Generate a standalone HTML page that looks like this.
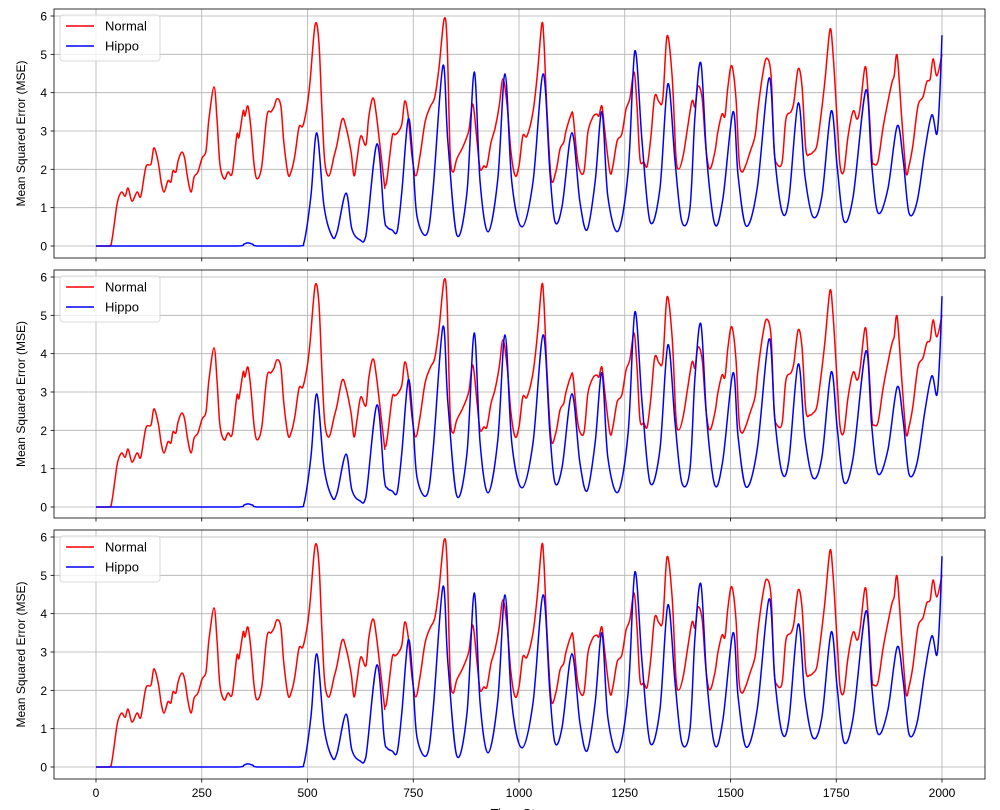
<!DOCTYPE html>
<html><head><meta charset="utf-8">
<style>
body{margin:0;background:#fff;}
svg{display:block;font-family:"Liberation Sans","DejaVu Sans",sans-serif;}
</style></head>
<body>
<svg id="chart" width="1000" height="810" viewBox="0 0 1000 810" xmlns="http://www.w3.org/2000/svg"></svg>
<script>
const xTicks = [0,250,500,750,1000,1250,1500,1750,2000];
const yTicks = [0,1,2,3,4,5,6];
const seriesNames = ["Normal","Hippo"];
const normalT = [0,31,38,49,54,61,69,76,85,97,106,118,130,137,147,154,161,170,177,182,189,194,203,210,217,225,232,241,251,260,267,279,286,293,303,312,322,333,338,348,352,359,366,374,381,392,404,414,421,428,437,444,454,461,470,480,489,499,506,518,527,534,541,551,563,570,582,591,603,610,617,626,638,645,655,664,681,683,688,700,707,714,723,730,738,747,756,766,778,790,801,811,823,830,837,844,853,865,875,882,891,901,908,917,924,934,943,953,962,972,981,991,1000,1009,1019,1033,1043,1054,1059,1066,1076,1087,1097,1106,1111,1123,1128,1137,1144,1154,1163,1175,1184,1189,1196,1203,1215,1222,1232,1243,1253,1262,1272,1279,1286,1295,1303,1312,1321,1331,1340,1350,1362,1371,1378,1388,1397,1409,1416,1423,1433,1442,1451,1463,1470,1480,1487,1494,1503,1513,1520,1527,1537,1546,1558,1565,1577,1586,1596,1603,1610,1622,1631,1643,1650,1660,1669,1678,1688,1695,1704,1712,1723,1735,1742,1752,1759,1768,1778,1790,1799,1806,1818,1825,1834,1839,1849,1860,1872,1882,1887,1894,1905,1915,1922,1931,1943,1955,1964,1972,1979,1988,2000];
const normalV = [0,0,0.18,1.04,1.28,1.41,1.30,1.51,1.17,1.41,1.30,2.06,2.14,2.56,2.19,1.67,1.41,1.70,1.67,1.96,1.93,2.22,2.45,2.27,1.75,1.41,1.80,1.93,2.30,2.48,3.31,4.15,3.31,2.14,1.75,1.93,1.90,2.90,2.84,3.52,3.39,3.65,3.10,2.09,1.75,2.09,3.39,3.50,3.63,3.84,3.65,2.71,1.88,1.93,2.35,3.10,3.13,3.65,4.28,5.77,5.32,3.57,2.19,1.83,2.35,2.66,3.31,3.10,2.45,1.83,2.27,2.87,2.64,3.37,3.86,3.31,1.67,1.57,1.75,2.84,2.90,2.97,3.18,3.78,3.39,2.35,1.83,2.35,3.24,3.63,3.89,4.67,5.92,5.32,2.45,1.93,2.27,2.53,2.79,3.05,3.70,2.71,2.01,2.09,2.09,2.71,3.05,3.63,4.36,3.65,2.45,1.83,2.09,2.87,2.87,3.50,4.44,5.79,5.32,3.57,1.77,1.93,2.53,2.71,3.00,3.42,3.39,2.35,1.96,1.96,2.97,3.37,3.44,3.39,3.65,2.97,1.93,2.09,2.74,2.92,3.57,3.84,4.54,3.65,2.27,2.19,2.09,2.87,3.91,3.76,3.84,5.48,4.44,2.35,2.01,2.35,2.97,3.78,3.63,4.17,3.84,2.53,2.01,2.45,2.97,3.44,3.39,4.17,4.70,3.84,2.27,1.93,2.14,2.45,2.87,3.57,4.54,4.90,4.44,2.53,2.14,2.19,3.31,3.50,3.76,4.62,4.17,2.53,2.40,2.45,2.61,3.24,4.28,5.64,5.06,3.31,2.09,1.96,2.87,3.52,3.31,3.57,4.67,4.02,2.35,2.14,2.22,3.05,3.76,4.28,4.44,4.96,3.31,1.93,2.09,2.61,3.65,3.89,4.28,4.36,4.88,4.44,5.01];
const hippoT = [0,230,335,350,359,370,385,480,492,508,522,539,558,570,591,605,624,638,664,681,688,700,712,723,738,749,759,782,797,820,832,853,877,894,908,927,950,967,983,1007,1033,1057,1073,1085,1102,1125,1144,1161,1180,1196,1210,1234,1258,1274,1291,1310,1333,1352,1369,1385,1404,1416,1430,1444,1463,1482,1506,1518,1537,1563,1591,1605,1622,1638,1660,1676,1695,1716,1738,1752,1768,1790,1820,1834,1849,1872,1894,1908,1922,1941,1960,1976,1988,1995,2000];
const hippoV = [0,0,0,0.05,0.08,0.05,0,0,0.10,1.30,2.95,1.04,0.26,0.37,1.38,0.44,0.16,0.26,2.66,0.78,0.50,0.42,0.39,1.41,3.31,2.27,0.76,0.31,1.49,4.70,2.71,0.29,1.41,4.54,1.67,0.37,1.75,4.49,1.67,0.50,1.67,4.49,1.93,0.63,1.04,2.95,1.15,0.42,1.67,3.50,1.30,0.39,1.93,5.09,2.71,0.63,1.49,4.23,2.19,0.63,0.97,3.39,4.77,2.27,0.57,1.23,3.50,1.83,0.52,1.49,4.38,2.27,0.89,1.23,3.73,1.83,0.76,1.30,3.52,2.09,0.65,1.30,4.07,2.09,0.86,1.49,3.13,2.27,0.86,1.15,2.53,3.42,2.92,4.02,5.50];

const NS="http://www.w3.org/2000/svg";
const svg=document.getElementById('chart');
function mk(tag,attrs,parent){const e=document.createElementNS(NS,tag);for(const k in attrs)e.setAttribute(k,attrs[k]);(parent||svg).appendChild(e);return e;}
const L=54,R=985;
const panels=[{top:9,bot:258,y0:246,y6:16},{top:270,bot:518,y0:507,y6:277},{top:530,bot:779,y0:767,y6:537}];
function xs(t){return 96+(t/2000)*(942-96);}
function pathFor(T,V,ys,yFloor){
  const p=T.map((t,i)=>[xs(t),ys(V[i])]);
  let d='M'+p[0][0].toFixed(1)+','+p[0][1].toFixed(1);
  for(let i=0;i<p.length-1;i++){
    const a=p[Math.max(0,i-1)],b=p[i],c=p[i+1],e=p[Math.min(p.length-1,i+2)];
    const c1=[b[0]+(c[0]-a[0])/6,Math.min(yFloor,b[1]+(c[1]-a[1])/6)];
    const c2=[c[0]-(e[0]-b[0])/6,Math.min(yFloor,c[1]-(e[1]-b[1])/6)];
    d+='C'+c1[0].toFixed(1)+','+c1[1].toFixed(1)+' '+c2[0].toFixed(1)+','+c2[1].toFixed(1)+' '+c[0].toFixed(1)+','+c[1].toFixed(1);
  }
  return d;
}
panels.forEach((P,pi)=>{
  const g=mk('g',{});
  
  
  const ys=v=>P.y0+(P.y6-P.y0)*v/6;
  xTicks.forEach(t=>{
    const l=mk('line',{x1:xs(t),x2:xs(t),y1:P.top,y2:P.bot,stroke:'#b0b0b0','stroke-width':0.8},g);
    
    
    mk('line',{x1:xs(t),x2:xs(t),y1:P.bot,y2:P.bot+3.5,stroke:'#000','stroke-width':0.8},g);
    if(pi===2){
      const tx=mk('text',{x:xs(t),y:P.bot+18,'font-size':12,'text-anchor':'middle',fill:'#000'},g);
      tx.textContent=t;
      
      
    }
  });
  yTicks.forEach(v=>{
    const l=mk('line',{x1:L,x2:R,y1:ys(v),y2:ys(v),stroke:'#b0b0b0','stroke-width':0.8},g);
    
    
    mk('line',{x1:L-3.5,x2:L,y1:ys(v),y2:ys(v),stroke:'#000','stroke-width':0.8},g);
    const tx=mk('text',{x:L-7,y:ys(v)+4.5,'font-size':12,'text-anchor':'end',fill:'#000'},g);
    tx.textContent=v;
    
    
  });
  const n=mk('path',{d:pathFor(normalT,normalV,ys,P.y0),fill:'none',stroke:'#ff0000','stroke-width':1.5},g);
  
  
  const h=mk('path',{d:pathFor(hippoT,hippoV,ys,P.y0),fill:'none',stroke:'#0000ff','stroke-width':1.5},g);
  
  
  const fr=mk('rect',{x:L,y:P.top,width:R-L,height:P.bot-P.top,fill:'none',stroke:'#000','stroke-width':0.8},g);
  
  
  const yl=mk('text',{x:0,y:0,'font-size':12,'text-anchor':'middle',transform:`translate(25,${(P.top+P.bot)/2}) rotate(-90)`},g);
  yl.textContent='Mean Squared Error (MSE)';
  
  
  const lg=mk('g',{},g);
  
  
  mk('rect',{x:60,y:P.top+6,width:100,height:46,rx:3,fill:'#fff','fill-opacity':0.8,stroke:'#d0d0d0','stroke-width':0.8},lg);
  const cols=['#ff0000','#0000ff'];
  seriesNames.forEach((s,i)=>{
    const yy=P.top+17+i*20;
    mk('line',{x1:66,x2:94,y1:yy,y2:yy,stroke:cols[i],'stroke-width':1.5},lg);
    const tx=mk('text',{x:105,y:yy+4.5,'font-size':13,fill:'#000'},lg);
    tx.textContent=s;
    
    
  });
});
const xt=mk('text',{x:520,y:818,'font-size':13,'text-anchor':'middle'});
xt.textContent='Time Step';


</script>
</body></html>
